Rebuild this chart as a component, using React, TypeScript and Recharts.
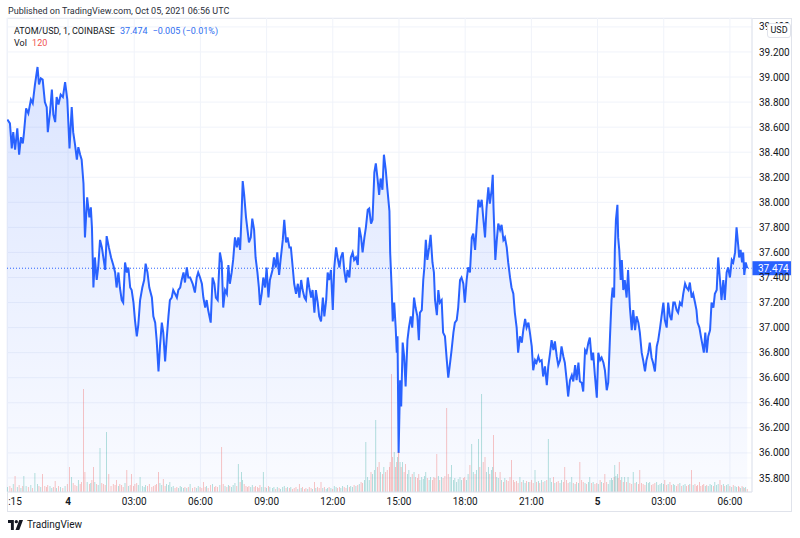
import {
  ComposedChart, Area, Bar, XAxis, YAxis, CartesianGrid, ReferenceLine, Cell,
} from "recharts";

// ATOM/USD 1m, COINBASE — minutes from Oct 04 2021 00:00 UTC
const minutes = [
  -165, -158, -153, -149, -144, -138, -133, -128, -123, -120,
  -114, -108, -101, -96, -90, -83, -79, -74, -69, -63,
  -58, -55, -49, -44, -40, -35, -31, -26, -20, -14,
  -8, -2, 4, 10, 14, 19, 24, 28, 33, 37,
  42, 46, 52, 58, 62, 65, 69, 73, 78, 82,
  87, 92, 96, 101, 105, 111, 117, 123, 128, 132,
  137, 141, 146, 150, 155, 160, 164, 169, 173, 178,
  182, 187, 191, 196, 202, 207, 211, 216, 221, 228,
  232, 237, 241, 246, 250, 255, 259, 264, 268, 273,
  277, 282, 286, 291, 296, 300, 305, 309, 314, 318,
  323, 327, 332, 339, 345, 350, 354, 359, 364, 368,
  373, 377, 381, 388, 393, 398, 402, 407, 413, 418,
  422, 427, 432, 436, 440, 445, 449, 454, 459, 463,
  468, 472, 475, 479, 484, 488, 492, 497, 501, 506,
  510, 515, 519, 522, 527, 531, 536, 540, 545, 549,
  556, 560, 565, 569, 574, 578, 584, 588, 593, 597,
  602, 606, 611, 615, 620, 625, 629, 634, 638, 643,
  647, 652, 656, 661, 665, 670, 674, 679, 683, 688,
  693, 697, 702, 706, 710, 715, 720, 724, 729, 733,
  738, 742, 747, 751, 756, 760, 765, 769, 774, 778,
  783, 788, 792, 797, 801, 806, 810, 815, 819, 824,
  828, 833, 837, 842, 846, 850, 855, 859, 864, 868,
  874, 876, 880, 883, 887, 891, 894, 896, 899, 903,
  906, 910, 914, 918, 923, 927, 932, 936, 941, 945,
  950, 954, 957, 962, 966, 969, 973, 977, 982, 986,
  991, 995, 998, 1003, 1007, 1011, 1016, 1020, 1025, 1030,
  1034, 1039, 1043, 1048, 1052, 1057, 1061, 1066, 1070, 1075,
  1079, 1084, 1088, 1093, 1098, 1102, 1107, 1111, 1116, 1120,
  1125, 1129, 1134, 1138, 1143, 1147, 1152, 1155, 1157, 1162,
  1166, 1170, 1175, 1179, 1184, 1188, 1193, 1197, 1202, 1206,
  1211, 1215, 1220, 1224, 1229, 1234, 1238, 1243, 1247, 1252,
  1256, 1261, 1265, 1270, 1274, 1279, 1283, 1288, 1292, 1297,
  1302, 1306, 1311, 1315, 1320, 1324, 1329, 1333, 1338, 1342,
  1347, 1351, 1356, 1360, 1365, 1370, 1374, 1379, 1383, 1388,
  1392, 1397, 1401, 1406, 1410, 1415, 1419, 1424, 1428, 1433,
  1438, 1442, 1447, 1451, 1456, 1460, 1465, 1469, 1474, 1478,
  1481, 1485, 1487, 1490, 1494, 1496, 1499, 1503, 1506, 1510,
  1514, 1519, 1523, 1528, 1533, 1537, 1542, 1546, 1551, 1555,
  1560, 1564, 1569, 1573, 1578, 1582, 1587, 1591, 1596, 1601,
  1605, 1610, 1614, 1619, 1623, 1628, 1632, 1637, 1641, 1646,
  1650, 1655, 1659, 1664, 1669, 1673, 1678, 1682, 1687, 1691,
  1696, 1700, 1705, 1709, 1712, 1717, 1721, 1726, 1729, 1733,
  1737, 1741, 1746, 1750, 1755, 1759, 1764, 1768, 1773, 1777,
  1782, 1786, 1791, 1795, 1800, 1805, 1809, 1814, 1818, 1823,
  1825, 1829, 1833, 1836, 1839, 1843, 1847,
];

const closes = [
  38.66, 38.63, 38.43, 38.56, 38.42, 38.59, 38.38, 38.52, 38.47, 38.55,
  38.75, 38.71, 38.82, 38.79, 38.94, 39.08, 38.94, 38.99, 38.98, 38.80,
  38.76, 38.56, 38.72, 38.90, 38.70, 38.64, 38.84, 38.78, 38.86, 38.84,
  38.96, 38.82, 38.43, 38.76, 38.56, 38.46, 38.34, 38.44, 38.38, 38.34,
  38.15, 37.72, 38.04, 37.88, 37.96, 37.80, 37.32, 37.56, 37.38, 37.48,
  37.70, 37.64, 37.56, 37.46, 37.73, 37.64, 37.56, 37.50, 37.44, 37.32,
  37.44, 37.32, 37.22, 37.20, 37.52, 37.44, 37.48, 37.32, 37.30, 37.20,
  37.06, 36.93, 37.02, 37.22, 37.32, 37.38, 37.51, 37.44, 37.32, 37.24,
  37.09, 37.04, 36.90, 36.65, 36.85, 37.04, 36.96, 36.73, 36.90, 37.09,
  37.22, 37.24, 37.30, 37.27, 37.24, 37.30, 37.32, 37.38, 37.44, 37.36,
  37.48, 37.40, 37.40, 37.35, 37.28, 37.40, 37.44, 37.40, 37.35, 37.24,
  37.16, 37.22, 37.14, 37.04, 37.40, 37.35, 37.24, 37.22, 37.60, 37.52,
  37.16, 37.30, 37.27, 37.50, 37.35, 37.44, 37.54, 37.72, 37.64, 37.72,
  37.62, 37.91, 38.17, 38.06, 37.88, 37.78, 37.68, 37.72, 37.87, 37.78,
  37.56, 37.44, 37.32, 37.18, 37.28, 37.40, 37.32, 37.48, 37.24, 37.38,
  37.46, 37.56, 37.48, 37.60, 37.42, 37.54, 37.70, 37.86, 37.68, 37.72,
  37.64, 37.64, 37.48, 37.35, 37.27, 37.35, 37.24, 37.38, 37.30, 37.24,
  37.22, 37.40, 37.32, 37.24, 37.30, 37.12, 37.30, 37.20, 37.09, 37.05,
  37.24, 37.09, 37.22, 37.44, 37.38, 37.46, 37.14, 37.48, 37.64, 37.56,
  37.48, 37.56, 37.60, 37.46, 37.36, 37.46, 37.40, 37.56, 37.60, 37.54,
  37.56, 37.50, 37.80, 37.72, 37.60, 37.72, 37.80, 37.94, 37.95, 37.83,
  37.86, 38.24, 38.31, 38.18, 38.06, 38.19, 38.10, 38.38, 38.26, 38.12,
  37.93, 37.60, 37.32, 37.05, 37.20, 37.00, 36.80, 36.93, 36.00, 36.58,
  36.37, 36.88, 36.77, 36.53, 36.90, 37.00, 37.09, 37.00, 37.24, 37.16,
  37.09, 36.90, 37.12, 37.14, 37.38, 37.48, 37.70, 37.54, 37.64, 37.74,
  37.52, 37.44, 37.22, 37.10, 37.30, 37.20, 37.22, 36.96, 36.93, 36.74,
  36.60, 36.72, 36.82, 36.96, 37.04, 37.06, 37.16, 37.38, 37.40, 37.35,
  37.20, 37.38, 37.48, 37.44, 37.72, 37.75, 37.62, 37.80, 38.02, 37.96,
  38.02, 37.88, 37.72, 37.95, 38.12, 37.99, 38.10, 38.22, 37.96, 37.54,
  37.70, 37.83, 37.78, 37.82, 37.70, 37.72, 37.64, 37.52, 37.40, 37.32,
  37.27, 37.12, 37.00, 36.80, 36.93, 36.88, 36.98, 37.07, 37.00, 37.04,
  36.96, 36.85, 36.66, 36.74, 36.72, 36.77, 36.73, 36.74, 36.61, 36.69,
  36.54, 36.69, 36.80, 36.90, 36.82, 36.89, 36.77, 36.70, 36.74, 36.85,
  36.77, 36.72, 36.58, 36.45, 36.58, 36.62, 36.57, 36.70, 36.58, 36.72,
  36.57, 36.56, 36.49, 36.82, 36.80, 36.88, 36.92, 36.74, 36.80, 36.61,
  36.44, 36.80, 36.74, 36.76, 36.72, 36.66, 36.50, 36.56, 36.94, 37.22,
  37.32, 37.24, 37.62, 37.86, 37.98, 37.72, 37.62, 37.38, 37.54, 37.30,
  37.38, 37.24, 37.46, 37.16, 36.98, 37.14, 36.98, 37.09, 37.04, 36.96,
  36.80, 36.74, 36.65, 36.74, 36.80, 36.88, 36.76, 36.72, 36.65, 36.85,
  36.90, 37.00, 37.09, 37.20, 37.06, 37.00, 37.20, 37.09, 37.06, 37.20,
  37.20, 37.14, 37.12, 37.20, 37.18, 37.27, 37.35, 37.32, 37.30, 37.36,
  37.24, 37.27, 37.20, 37.14, 37.04, 37.00, 36.93, 36.85, 36.80, 36.96,
  36.80, 36.93, 36.98, 37.20, 37.16, 37.27, 37.30, 37.56, 37.38, 37.22,
  37.38, 37.22, 37.44, 37.48, 37.40, 37.54, 37.52, 37.60, 37.80, 37.64,
  37.56, 37.62, 37.52, 37.60, 37.42, 37.52, 37.474,
];

const volumes = [
  200, 240, 160, 320, 640, 200, 280, 160, 240, 640,
  240, 200, 280, 160, 760, 320, 240, 200, 720, 240,
  200, 280, 240, 160, 200, 440, 160, 240, 200, 160,
  240, 320, 1000, 600, 360, 280, 240, 480, 320, 400,
  4120, 800, 400, 320, 360, 480, 1000, 400, 320, 280,
  1760, 360, 320, 280, 2400, 720, 240, 320, 280, 480,
  240, 320, 280, 200, 360, 880, 240, 280, 720, 240,
  320, 360, 280, 600, 240, 200, 280, 240, 320, 200,
  240, 280, 320, 800, 360, 280, 520, 240, 320, 280,
  400, 200, 240, 160, 200, 160, 240, 200, 160, 200,
  160, 200, 320, 160, 200, 160, 240, 200, 160, 400,
  200, 240, 160, 280, 320, 200, 240, 200, 280, 1800,
  320, 240, 200, 280, 240, 200, 280, 360, 240, 1120,
  400, 800, 480, 320, 240, 200, 240, 200, 280, 200,
  240, 200, 160, 280, 200, 800, 200, 160, 240, 200,
  160, 200, 120, 200, 160, 120, 200, 240, 160, 200,
  160, 200, 120, 160, 200, 120, 320, 160, 200, 120,
  160, 120, 200, 160, 120, 400, 160, 200, 160, 400,
  160, 200, 120, 160, 200, 160, 120, 240, 200, 160,
  200, 160, 240, 200, 160, 280, 200, 240, 200, 280,
  240, 280, 320, 400, 360, 480, 2000, 600, 480, 800,
  720, 880, 2880, 1000, 1200, 800, 720, 1000, 800, 880,
  1000, 1200, 4720, 1400, 1600, 1000, 1200, 1400, 1600, 1200,
  1000, 1200, 800, 1120, 720, 880, 600, 720, 800, 600,
  560, 720, 480, 600, 520, 640, 800, 560, 480, 600,
  480, 600, 560, 1520, 640, 480, 600, 560, 640, 3360,
  720, 600, 1080, 480, 560, 400, 520, 600, 480, 560,
  600, 480, 720, 1080, 1920, 800, 720, 880, 2120, 1000,
  3920, 1200, 1400, 800, 1000, 720, 880, 1000, 2280, 800,
  600, 560, 800, 480, 400, 560, 480, 440, 600, 1280,
  480, 400, 440, 360, 600, 400, 480, 360, 440, 400,
  400, 480, 360, 880, 400, 440, 360, 480, 400, 440,
  480, 2120, 560, 400, 600, 360, 400, 440, 360, 480,
  400, 1000, 480, 360, 400, 600, 360, 320, 400, 360,
  1200, 480, 400, 360, 320, 400, 600, 360, 400, 320,
  360, 320, 480, 400, 360, 720, 400, 320, 480, 560,
  480, 600, 1080, 640, 720, 560, 1200, 480, 600, 400,
  600, 400, 600, 360, 320, 800, 360, 400, 320, 880,
  360, 320, 280, 400, 360, 400, 280, 320, 360, 400,
  280, 320, 360, 320, 480, 280, 320, 400, 280, 320,
  280, 240, 320, 360, 240, 280, 320, 240, 280, 320,
  880, 280, 320, 240, 280, 400, 240, 280, 320, 240,
  280, 240, 320, 280, 240, 400, 280, 320, 480, 280,
  320, 240, 280, 320, 240, 200, 280, 240, 200, 240,
  200, 160, 240, 200, 160, 200, 120,
];

const priceTicks = [
  35.8, 36.0, 36.2, 36.4, 36.6, 36.8, 37.0, 37.2, 37.4, 37.6,
  37.8, 38.0, 38.2, 38.4, 38.6, 38.8, 39.0, 39.2, 39.4,
];
const timeTicks = [-165, 0, 180, 360, 540, 720, 900, 1080, 1260, 1440, 1620, 1800];
const timeLabels = ["21:15", "4", "03:00", "06:00", "09:00", "12:00", "15:00", "18:00", "21:00", "5", "03:00", "06:00"];

const lastPrice = 37.474;
const lastChange = "−0.005 (−0.01%)";
const lastVolume = 120;

const BLUE = "#2962FF";
const UP = "rgba(38,166,154,0.5)";
const DOWN = "rgba(239,83,80,0.5)";
const FONT = "Roboto, 'Liberation Sans', sans-serif";

const data = minutes.map((t, i) => ({
  t,
  price: closes[i],
  vol: volumes[i],
  up: i === 0 ? true : closes[i] >= closes[i - 1],
}));

function TimeTick(props: any) {
  const { x, y, payload } = props;
  const idx = timeTicks.indexOf(payload.value);
  const label = timeLabels[idx] ?? "";
  return (
    <text
      x={x + (idx === 0 ? 2 : 0)}
      y={y}
      dy="0.71em"
      textAnchor="middle"
      fontSize={10}
      fill="#131722"
      fontWeight={label.length === 1 ? 700 : 400}
      clipPath="url(#timeClip)"
    >
      {label}
    </text>
  );
}

function LastTag(props: any) {
  const vb = props.viewBox;
  if (!vb) return null;
  const x = vb.x + vb.width;
  const y = vb.y;
  return (
    <g>
      <rect x={x} y={y - 7} width={39} height={14} fill={BLUE} />
      <text x={x + 6} y={y + 3.5} fontSize={10} fill="#fff">{lastPrice.toFixed(3)}</text>
    </g>
  );
}

export default function App() {
  return (
    <div style={{ position: "relative", width: 800, height: 538, background: "#fff", fontFamily: FONT, color: "#131722" }}>
      <style>{"body{margin:0}"}</style>
      <div style={{ position: "absolute", left: 8, top: 6, fontSize: 9, color: "#2a2e39" }}>
        Published on TradingView.com, Oct 05, 2021 06:56 UTC
      </div>
      <div style={{ position: "absolute", left: 7, top: 18, width: 785, height: 494, border: "1px solid #e0e3eb", boxSizing: "border-box" }} />

      <div style={{ position: "absolute", left: 0, top: 0 }}>
        <ComposedChart width={800} height={538} data={data} margin={{ top: 18, right: 8, bottom: 26, left: 7 }}>
          <defs>
            <linearGradient id="atomFill" x1="0" y1="0" x2="0" y2="1">
              <stop offset="0%" stopColor={BLUE} stopOpacity={0.28} />
              <stop offset="100%" stopColor={BLUE} stopOpacity={0.04} />
            </linearGradient>
            <clipPath id="timeClip">
              <rect x={8} y={480} width={744} height={40} />
            </clipPath>
          </defs>
          <CartesianGrid stroke="#f0f3fa" yAxisId="price" />
          <XAxis
            dataKey="t"
            type="number"
            domain={[-166, 1860]}
            allowDataOverflow
            ticks={timeTicks}
            interval={0}
            tick={<TimeTick />}
            tickLine={false}
            tickSize={4}
            tickMargin={2}
            height={20}
            axisLine={{ stroke: "#e0e3eb" }}
          />
          <YAxis
            yAxisId="price"
            orientation="right"
            type="number"
            domain={[35.688, 39.471]}
            allowDataOverflow
            ticks={priceTicks}
            interval={0}
            tickFormatter={(v: number) => v.toFixed(3)}
            tick={{ fontSize: 10, fill: "#131722" }}
            tickLine={false}
            tickSize={5}
            tickMargin={2}
            width={40}
            axisLine={{ stroke: "#e0e3eb" }}
          />
          <YAxis yAxisId="vol" hide domain={[0, 18960]} />
          <Bar yAxisId="vol" dataKey="vol" barSize={2} isAnimationActive={false}>
            {data.map((d, i) => (
              <Cell key={i} fill={d.up ? UP : DOWN} />
            ))}
          </Bar>
          <Area
            yAxisId="price"
            type="linear"
            dataKey="price"
            stroke={BLUE}
            strokeWidth={2}
            fill="url(#atomFill)"
            dot={false}
            activeDot={false}
            isAnimationActive={false}
          />
          <ReferenceLine
            yAxisId="price"
            y={lastPrice}
            stroke={BLUE}
            strokeDasharray="1 2"
            label={<LastTag />}
          />
        </ComposedChart>
      </div>

      <div style={{ position: "absolute", left: 14, top: 26, fontSize: 9, whiteSpace: "nowrap" }}>
        ATOM/USD, 1, COINBASE
        <span style={{ color: "#2f6ef0", marginLeft: 5 }}>{lastPrice.toFixed(3)}</span>
        <span style={{ color: "#2f6ef0", marginLeft: 5 }}>{lastChange}</span>
      </div>
      <div style={{ position: "absolute", left: 14, top: 38, fontSize: 9 }}>
        Vol <span style={{ color: "#ef5350", marginLeft: 3 }}>{lastVolume}</span>
      </div>
      <div style={{
        position: "absolute", left: 767, top: 23, width: 22, height: 13, background: "#fff",
        border: "1px solid #e0e3eb", borderRadius: 3, fontSize: 9, lineHeight: "13px", textAlign: "center",
      }}>
        USD
      </div>
      <div style={{ position: "absolute", left: 8, top: 519, display: "flex", alignItems: "center", gap: 4 }}>
        <svg width={15} height={10} viewBox="0 0 36 24">
          <path d="M0 0h14v24H7V7H0z M18 24 27 0h9l-9 24z" fill="#131722" />
          <circle cx="20" cy="4" r="4" fill="#131722" />
        </svg>
        <span style={{ fontSize: 10 }}>TradingView</span>
      </div>
    </div>
  );
}
